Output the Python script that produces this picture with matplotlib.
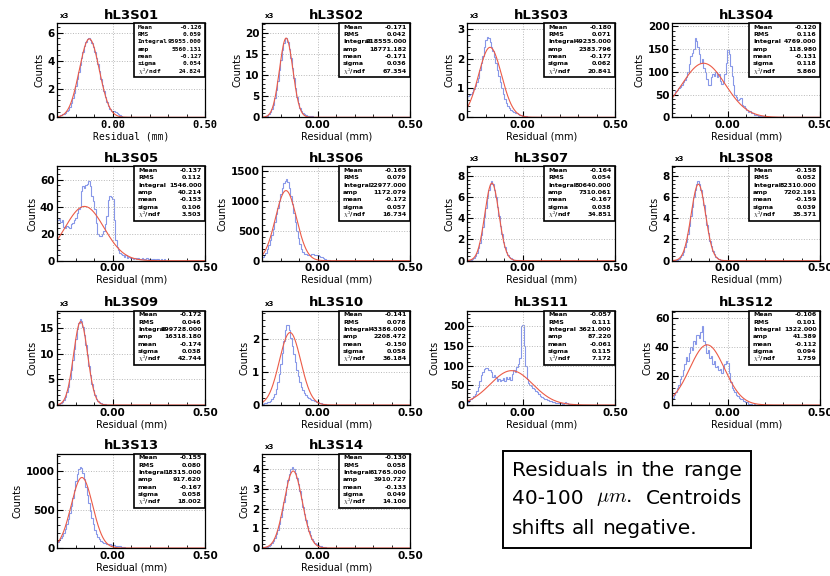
import numpy as np
import matplotlib
matplotlib.use('Agg')
from matplotlib import pyplot as plt
from matplotlib.patches import Rectangle
from matplotlib.ticker import MultipleLocator, AutoMinorLocator

plt.rcParams['font.family'] = ['DejaVu Sans']
plt.rcParams['font.weight'] = 'bold'
plt.rcParams['mathtext.fontset'] = 'cm'

# ---------------------------------------------------------------- data
names = ['hL3S01', 'hL3S02', 'hL3S03', 'hL3S04', 'hL3S05', 'hL3S06', 'hL3S07',
         'hL3S08', 'hL3S09', 'hL3S10', 'hL3S11', 'hL3S12', 'hL3S13', 'hL3S14']
scale = [1000, 1000, 1000, 1, 1, 1, 1000, 1000, 1000, 1000, 1, 1, 1, 1000]
y_top = [6.7, 22.4, 3.22, 208, 70, 1580, 8.9, 8.9, 18.5, 2.88, 240, 65, 1230, 4.8]
y_step = [2, 5, 1, 50, 20, 500, 2, 2, 5, 1, 50, 20, 500, 1]

stat_mean = [-0.126, -0.171, -0.180, -0.120, -0.137, -0.165, -0.164,
             -0.158, -0.172, -0.141, -0.057, -0.106, -0.155, -0.130]
stat_rms = [0.059, 0.042, 0.071, 0.116, 0.112, 0.079, 0.054,
            0.052, 0.046, 0.078, 0.111, 0.101, 0.080, 0.058]
stat_integral = [95955.0, 218555.0, 49235.0, 4769.0, 1546.0, 22977.0, 80640.0,
                 82310.0, 199728.0, 43386.0, 3621.0, 1322.0, 18315.0, 61765.0]
fit_amp = [5560.131, 18771.182, 2383.796, 118.980, 40.214, 1172.079, 7310.061,
           7202.191, 16318.180, 2208.472, 87.220, 41.389, 917.620, 3910.727]
fit_mean = [-0.127, -0.171, -0.177, -0.131, -0.153, -0.172, -0.167,
            -0.159, -0.174, -0.150, -0.061, -0.112, -0.167, -0.133]
fit_sigma = [0.054, 0.036, 0.062, 0.118, 0.106, 0.057, 0.038,
             0.039, 0.038, 0.058, 0.115, 0.094, 0.058, 0.049]
fit_chi2 = [24.824, 67.354, 20.841, 5.860, 3.503, 16.734, 34.851,
            35.371, 42.744, 36.184, 7.172, 1.759, 18.002, 14.100]

# bin contents from x = -0.3, bin width 0.008 (100 bins up to 0.5), x3 panels in thousands
h01 = [0.1, 0.12, 0.15, 0.2, 0.25, 0.32, 0.42, 0.55, 0.75, 1.0, 1.35, 1.75, 2.2, 2.7, 3.2,
       3.7, 4.2, 4.65, 5.05, 5.35, 5.55, 5.6, 5.5, 5.3, 5.0, 4.65, 4.2, 3.75, 3.25, 2.75,
       2.3, 1.85, 1.45, 1.1, 0.8, 0.6, 0.48, 0.44, 0.42, 0.38, 0.3, 0.22, 0.14, 0.08, 0.05,
       0.03, 0.02]
h02 = [0.05, 0.09, 0.19, 0.36, 0.67, 1.16, 1.9, 3.0, 4.5, 6.4, 8.6, 11.1, 13.6, 15.9, 17.7,
       18.9, 18.8, 17.9, 16.2, 14.1, 11.6, 9.2, 6.9, 4.9, 3.4, 2.3, 1.5, 1.0, 0.7, 0.5,
       0.4, 0.3, 0.25, 0.2, 0.15, 0.1, 0.07, 0.05, 0.03]
h03 = [0.72, 0.75, 0.8, 0.85, 0.95, 1.05, 1.2, 1.35, 1.6, 1.85, 2.1, 2.4, 2.65, 2.75, 2.7,
       2.55, 2.4, 2.25, 2.05, 1.85, 1.6, 1.4, 1.2, 1.0, 0.8, 0.62, 0.48, 0.38, 0.3, 0.24,
       0.2, 0.17, 0.15, 0.13, 0.11, 0.09, 0.07, 0.06, 0.04, 0.03, 0.02]
h04 = [48, 52, 58, 60, 64, 66, 72, 78, 82, 88, 100, 118, 135, 142, 150, 175, 168, 155, 140,
       120, 128, 108, 100, 85, 72, 70, 88, 95, 92, 100, 88, 95, 80, 74, 78, 95, 120, 148,
       140, 112, 90, 70, 50, 44, 38, 40, 42, 28, 24, 20, 16, 12, 14, 10, 9, 6, 5, 4, 3, 3,
       2, 2, 1, 1, 1]
h05 = [30, 31, 29, 30, 25, 24, 26, 25, 24, 27, 28, 30, 32, 35, 38, 40, 52, 55, 54, 56, 57,
       59, 55, 48, 44, 38, 28, 20, 18, 18, 20, 22, 27, 33, 45, 48, 47, 46, 30, 15, 10, 8,
       6, 5, 4, 3, 4, 2, 3, 2, 2, 1, 2, 1, 2, 1, 1, 2, 1, 1, 2, 1, 1, 0, 1, 1, 0, 1, 1, 0,
       1, 0, 1]
h06 = [60, 90, 130, 190, 260, 340, 430, 530, 650, 780, 880, 1000, 1120, 1220, 1300, 1340,
       1360, 1310, 1220, 1090, 940, 790, 640, 500, 380, 280, 200, 150, 120, 105, 100, 95,
       100, 105, 110, 100, 95, 90, 80, 70, 55, 40, 25, 15, 10, 5, 3]
h07 = [0.02, 0.05, 0.09, 0.16, 0.28, 0.47, 0.75, 1.15, 1.7, 2.4, 3.2, 4.1, 5.0, 5.9, 6.7,
       7.2, 7.5, 7.2, 6.7, 6.0, 5.1, 4.2, 3.3, 2.5, 1.8, 1.25, 0.85, 0.55, 0.35, 0.22, 0.14,
       0.1, 0.07, 0.05, 0.03, 0.02]
h08 = [0.02, 0.03, 0.06, 0.11, 0.19, 0.32, 0.53, 0.83, 1.25, 1.8, 2.5, 3.3, 4.2, 5.1, 6.0,
       6.7, 7.2, 7.5, 7.2, 6.7, 6.0, 5.2, 4.3, 3.4, 2.6, 1.9, 1.35, 0.9, 0.6, 0.38, 0.24,
       0.15, 0.1, 0.06, 0.04, 0.02]
h09 = [0.09, 0.18, 0.33, 0.59, 0.98, 1.6, 2.45, 3.6, 5.1, 6.9, 8.9, 11.0, 13.0, 14.8, 16.1,
       16.8, 16.4, 15.3, 13.7, 11.8, 9.8, 7.7, 5.8, 4.2, 2.9, 1.95, 1.25, 0.8, 0.5, 0.3,
       0.2, 0.14, 0.1, 0.07, 0.05, 0.03]
h10 = [0.04, 0.05, 0.06, 0.08, 0.1, 0.13, 0.18, 0.25, 0.35, 0.5, 0.7, 0.95, 1.25, 1.6,
       1.95, 2.3, 2.45, 2.45, 2.3, 2.05, 1.8, 1.55, 1.3, 1.08, 0.88, 0.7, 0.56, 0.45, 0.37,
       0.3, 0.25, 0.21, 0.18, 0.16, 0.14, 0.12, 0.1, 0.08, 0.06, 0.05, 0.04, 0.03, 0.02]
h11 = [8, 12, 15, 18, 22, 28, 36, 45, 60, 75, 85, 92, 95, 93, 88, 90, 84, 72, 76, 70, 62,
       66, 60, 64, 68, 62, 70, 66, 72, 64, 78, 88, 84, 96, 105, 120, 200, 202, 150, 98, 65,
       55, 52, 48, 44, 40, 36, 32, 28, 24, 20, 18, 16, 15, 12, 11, 10, 8, 7, 6, 6, 5, 4, 4,
       3, 4, 8, 6, 3, 2, 2, 1, 2, 1, 1, 0, 1]
h12 = [5, 7, 9, 12, 14, 18, 20, 24, 28, 33, 30, 36, 40, 38, 44, 42, 48, 48, 46, 50, 54, 44,
       42, 36, 38, 32, 34, 28, 30, 26, 27, 24, 25, 22, 26, 28, 30, 29, 22, 16, 12, 10, 9, 7,
       6, 5, 4, 4, 3, 2, 2, 1, 1, 1, 0, 1]
h13 = [80, 100, 125, 160, 200, 250, 310, 380, 460, 550, 650, 760, 870, 960, 1030, 1050, 1040,
       980, 900, 800, 690, 580, 480, 390, 310, 240, 185, 145, 115, 95, 80, 70, 62, 56, 52,
       48, 45, 40, 36, 32, 28, 24, 20, 16, 12, 9, 6, 4, 3, 2]
h14 = [0.02, 0.03, 0.04, 0.07, 0.11, 0.17, 0.25, 0.36, 0.51, 0.7, 0.93, 1.22, 1.55, 1.93,
       2.32, 2.7, 3.1, 3.45, 3.75, 4.0, 4.1, 4.0, 3.8, 3.55, 3.25, 2.9, 2.5, 2.1, 1.75, 1.4,
       1.1, 0.85, 0.64, 0.48, 0.36, 0.27, 0.2, 0.15, 0.11, 0.08, 0.06, 0.04, 0.03, 0.02]
hists = [h01, h02, h03, h04, h05, h06, h07, h08, h09, h10, h11, h12, h13, h14]

note_words = [['Residuals', 'in', 'the', 'range'],
              ['40-100', r'$\mu m$.', 'Centroids'],
              ['shifts', 'all', 'negative.']]

# ---------------------------------------------------------------- layout
W, H = 830, 576
fig = plt.figure(figsize=(W / 100, H / 100), dpi=100)
col_left = [57.3, 262.3, 467.3, 672.3]
row_bottom = [117.3, 260.7, 405.0, 548.0]
ax_w, ax_h = 148, 94.5

edges = np.linspace(-0.3, 0.5, 101)
xfit = np.linspace(-0.3, 0.5, 500)

for k, name in enumerate(names):
    r, c = divmod(k, 4)
    ax = fig.add_axes([col_left[c] / W, 1 - row_bottom[r] / H, ax_w / W, ax_h / H])
    mono = (k == 0)
    fam = 'DejaVu Sans Mono' if mono else 'DejaVu Sans'

    counts = np.zeros(100)
    counts[:len(hists[k])] = hists[k]
    ax.stairs(counts, edges, color='#8797e8', lw=0.8)
    yfit = fit_amp[k] / scale[k] * np.exp(-0.5 * ((xfit - fit_mean[k]) / fit_sigma[k]) ** 2)
    ax.plot(xfit, yfit, color='#ec5b47', lw=0.8)

    ax.set_xlim(-0.3, 0.5)
    ax.set_ylim(0, y_top[k])
    ax.set_xticks([0.0, 0.5], labels=['0.00', '0.50'], fontfamily=fam)
    ax.xaxis.set_minor_locator(MultipleLocator(0.1))
    ax.yaxis.set_major_locator(MultipleLocator(y_step[k]))
    ax.yaxis.set_minor_locator(AutoMinorLocator(5))
    ax.tick_params(which='both', direction='in', labelsize=7.5, pad=2)
    ax.tick_params(which='major', length=4)
    ax.tick_params(which='minor', length=2)
    ax.grid(True, which='major', ls=':', color='#b8b8b8', lw=0.7)
    for s in ax.spines.values():
        s.set_linewidth(0.9)

    ax.set_title(name, fontsize=9.5, fontweight='bold', pad=3)
    ax.set_ylabel('Counts', fontsize=7, labelpad=2)
    ax.set_xlabel('Residual (mm)', fontsize=7, labelpad=1, fontfamily=fam)
    if scale[k] > 1:
        ax.text(0.02, 1.04, 'x3', transform=ax.transAxes, fontsize=5, va='bottom')

    # stats box
    bx, by = 0.52, 0.425
    ax.add_patch(Rectangle((bx, by), 1 - bx, 1 - by, transform=ax.transAxes,
                           facecolor='white', edgecolor='black', lw=1.2, zorder=5,
                           clip_on=False))
    rows = [('Mean', '%.3f' % stat_mean[k]), ('RMS', '%.3f' % stat_rms[k]),
            ('Integral', '%.3f' % stat_integral[k]), ('amp', '%.3f' % fit_amp[k]),
            ('mean', '%.3f' % fit_mean[k]), ('sigma', '%.3f' % fit_sigma[k]),
            (r'$\chi^2$/ndf', '%.3f' % fit_chi2[k])]
    for j, (lab, val) in enumerate(rows):
        yy = 0.955 - j * 0.078
        ax.text(bx + 0.025, yy, lab, transform=ax.transAxes, fontsize=4.5,
                fontfamily=fam, va='center', ha='left', zorder=6)
        ax.text(0.975, yy, val, transform=ax.transAxes, fontsize=4.5,
                fontfamily=fam, va='center', ha='right', zorder=6)

# ---------------------------------------------------------------- note box
fig.add_artist(Rectangle((502.7 / W, 1 - 548.3 / H), 248 / W, 97.6 / H,
                         transform=fig.transFigure, fill=False, lw=1.4, ec='black'))
renderer = fig.canvas.get_renderer()
x0, x1 = 511.7, 741.7
line_y = [470, 499, 528]
for words, yl, just in zip(note_words, line_y, [True, True, False]):
    txts = [fig.text(0, 1 - yl / H, w, fontsize=14.5, fontweight='normal',
                     va='center', ha='left') for w in words]
    widths = [t.get_window_extent(renderer).width for t in txts]
    if just:
        gap = (x1 - x0 - sum(widths)) / (len(words) - 1)
    else:
        gap = 6.5
    xp = x0
    for t, wd in zip(txts, widths):
        t.set_x(xp / W)
        xp += wd + gap

fig.savefig('out.png', dpi=100)
